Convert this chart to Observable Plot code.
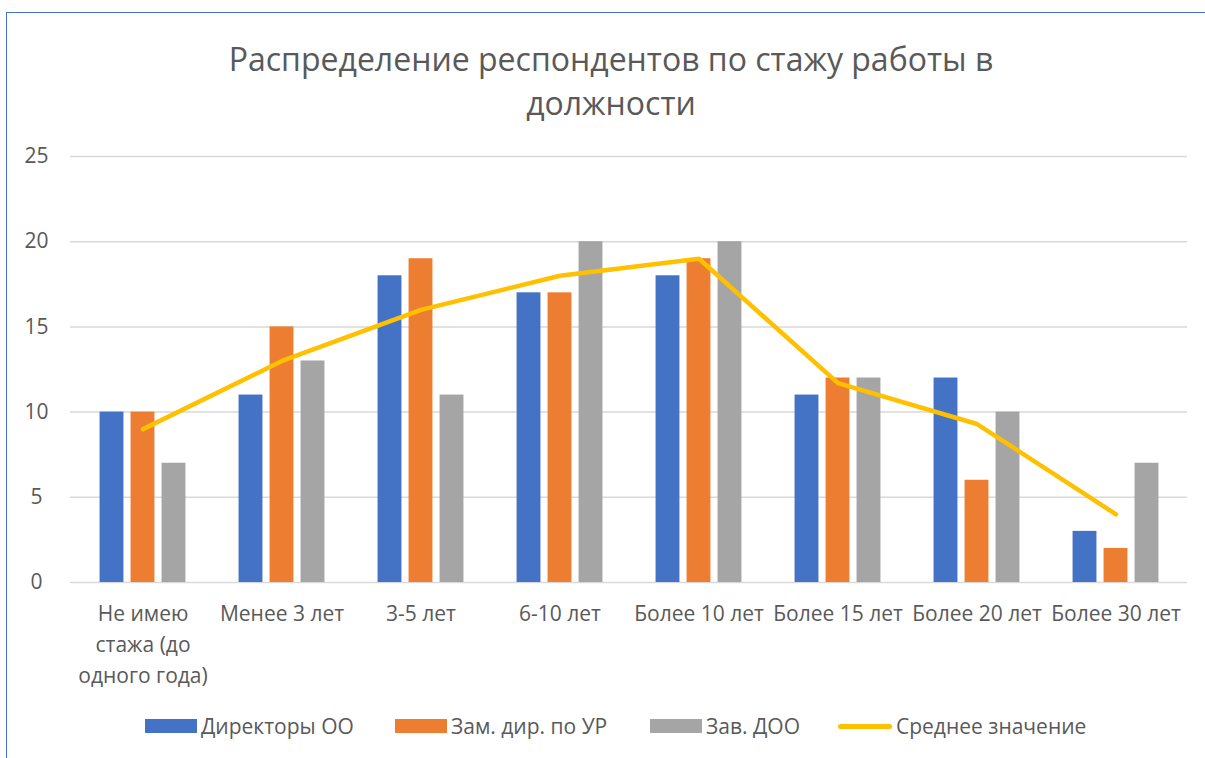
<!DOCTYPE html>
<html>
<head>
<meta charset="utf-8">
<script src="https://cdn.jsdelivr.net/npm/d3@7"></script>
<script src="https://cdn.jsdelivr.net/npm/@observablehq/plot@0.6"></script>
<style>
  html, body { margin: 0; padding: 0; background: #fff; overflow: hidden; }
  #wrap { position: relative; width: 1205px; height: 758px; font-family: "Open Sans", sans-serif; color: #595959; }
  #border { position: absolute; left: 6px; top: 12px; width: 1300px; height: 800px; border-left: 1.5px solid #4472C4; border-top: 1.5px solid #4472C4; box-sizing: border-box; }
  #title { position: absolute; left: 0; width: 1222px; top: 37px; text-align: center; font-size: 32px; line-height: 44px; color: #595959; }
  #chart { position: absolute; left: 0; top: 140px; }
  #legend { position: absolute; top: 712px; left: 0; width: 1205px; height: 28px; }
  .li { position: absolute; top: 0; height: 28px; display: flex; align-items: center; font-size: 21px; color: #595959; white-space: nowrap; }
  .sw { width: 52px; height: 14px; margin-right: 4px; }
  .ln { width: 54px; height: 5px; border-radius: 3px; margin-right: 4px; }
</style>
</head>
<body>
<div id="wrap">
  <div id="border"></div>
  <div id="title">Распределение респондентов по стажу работы в<br>должности</div>
  <div id="chart"></div>
  <div id="legend"></div>
</div>
<script>
const categories = ["Не имею стажа (до одного года)", "Менее 3 лет", "3-5 лет", "6-10 лет", "Более 10 лет", "Более 15 лет", "Более 20 лет", "Более 30 лет"];
const tickLabels = ["Не имею\nстажа (до\nодного года)", "Менее 3 лет", "3-5 лет", "6-10 лет", "Более 10 лет", "Более 15 лет", "Более 20 лет", "Более 30 лет"];
const seriesNames = ["Директоры ОО", "Зам. дир. по УР", "Зав. ДОО", "Среднее значение"];
const directors = [10, 11, 18, 17, 18, 11, 12, 3];
const deputies = [10, 15, 19, 17, 19, 12, 6, 2];
const preschool = [7, 13, 11, 20, 20, 12, 10, 7];
const average = [9, 13, 16, 18, 19, 11.7, 9.3, 4];
const yTicks = [0, 5, 10, 15, 20, 25];
const colors = ["#4472C4", "#ED7D31", "#A5A5A5", "#FFC000"];

const rows = (vals) => categories.map((c, i) => ({cat: c, value: vals[i]}));

const width = 1205, marginLeft = 70, marginRight = 18;
const band = (width - marginLeft - marginRight) / categories.length;
const barW = 24.5, step = 31;
const insets = (k) => ({
  insetLeft: band / 2 - barW / 2 + k * step,
  insetRight: band / 2 - barW / 2 - k * step
});
const labelOf = new Map(categories.map((c, i) => [c, tickLabels[i]]));

const chart = Plot.plot({
  width,
  height: 552,
  marginTop: 16,
  marginBottom: 110,
  marginLeft,
  marginRight,
  style: {fontFamily: "'Open Sans', sans-serif", fontSize: "21px", color: "#595959", background: "transparent"},
  x: {type: "band", domain: categories, padding: 0, label: null},
  y: {domain: [0, 25], label: null},
  marks: [
    Plot.gridY(yTicks, {stroke: "#D9D9D9", strokeOpacity: 1, strokeWidth: 1.5}),
    Plot.axisY(yTicks, {tickSize: 0, tickPadding: 23, fontSize: 21, fill: "#595959", label: null, textAnchor: "middle", dx: -11}),
    Plot.barY(rows(directors), {x: "cat", y: "value", fill: colors[0], ...insets(-1)}),
    Plot.barY(rows(deputies), {x: "cat", y: "value", fill: colors[1], ...insets(0)}),
    Plot.barY(rows(preschool), {x: "cat", y: "value", fill: colors[2], ...insets(1)}),
    Plot.axisX({tickSize: 0, tickPadding: 16, fontSize: 21, fill: "#595959", lineHeight: 1.48, tickFormat: d => labelOf.get(d), label: null}),
    Plot.line(rows(average), {x: "cat", y: "value", stroke: colors[3], strokeWidth: 4.5, strokeLinecap: "round", strokeLinejoin: "round"})
  ]
});
document.getElementById("chart").appendChild(chart);

const legend = document.getElementById("legend");
const lefts = [145, 395, 650, 838];
seriesNames.forEach((name, i) => {
  const item = document.createElement("div");
  item.className = "li";
  item.style.left = lefts[i] + "px";
  const sw = document.createElement("div");
  sw.className = i === 3 ? "ln" : "sw";
  sw.style.background = colors[i];
  const t = document.createElement("span");
  t.textContent = name;
  item.appendChild(sw);
  item.appendChild(t);
  legend.appendChild(item);
});
</script>
</body>
</html>
